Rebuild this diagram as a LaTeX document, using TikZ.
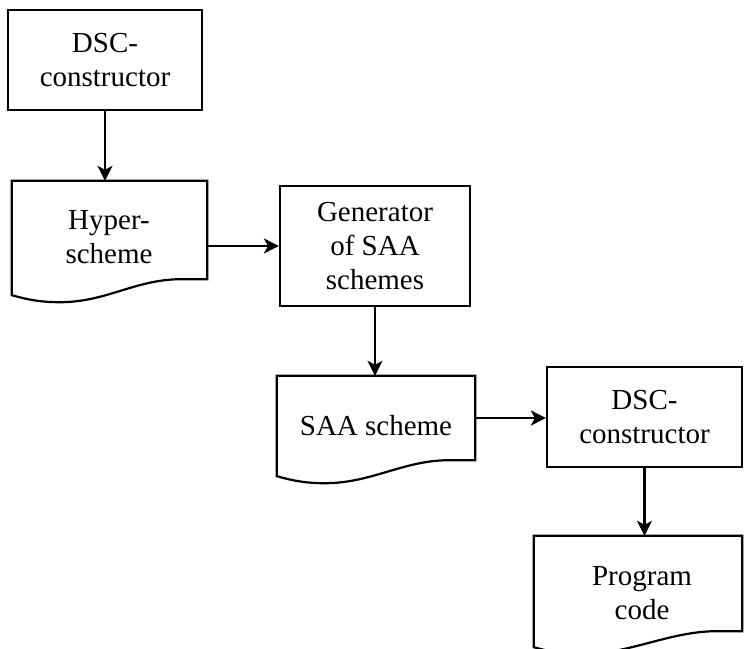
\documentclass[tikz,border=0pt]{standalone}
\usepackage{fontspec}
\setmainfont{Liberation Serif}
\usetikzlibrary{calc,arrows.meta}

\tikzset{
  base/.style={line width=2.2pt},
  txt/.style={align=center, inner sep=0pt, font=\fontsize{29}{34}\selectfont},
  box/.style={base, draw, rectangle, inner sep=0pt, txt},
  docbody/.style={rectangle, inner sep=0pt},
  arr/.style={base, -{Stealth[length=15pt,width=15pt,inset=4pt]}}
}

% document symbol: rectangle whose bottom edge is a wave
\newcommand\docoutline[1]{%
  \draw[base, line join=miter]
    (#1.south east) -- (#1.north east) -- (#1.north west)
    -- ($(#1.south west)+(0,16)$)
    .. controls ($(#1.south west)+(18,21)$) and ($(#1.south west)+(30,23)$) .. ($(#1.south west)+(48,23)$)
    .. controls ($(#1.south west)+(95,23)$) and ($(#1.south east)+(-72,0)$) .. ($(#1.south east)+(-26,0)$)
    -- cycle;}

\begin{document}
\begin{tikzpicture}[x=1pt, y=-1pt]
  \useasboundingbox (0,0) rectangle (744,648);

  % process boxes
  \node[box, minimum width=194pt, minimum height=100pt] (dsca) at (105,60) {DSC-\\constructor};
  \node[box, minimum width=190pt, minimum height=120pt] (gen) at (375,246) {Generator\\of SAA\\schemes};
  \node[box, minimum width=195pt, minimum height=100pt] (dscb) at (644.5,417) {DSC-\\constructor};

  % documents
  \node[docbody, minimum width=195pt, minimum height=98pt] (hyp) at (109.5,230) {};
  \docoutline{hyp}
  \node[txt] (hyptext) at (109,237) {Hyper-\\scheme};

  \node[docbody, minimum width=198pt, minimum height=84pt] (saa) at (376,418) {};
  \docoutline{saa}
  \node[txt] (saatext) at (376,426) {SAA scheme};

  \node[docbody, minimum width=208pt, minimum height=95pt] (prog) at (638,583.5) {};
  \docoutline{prog}
  \node[txt] (progtext) at (642,593) {Program\\code};

  % connectors
  \draw[arr] (dsca.south) -- (dsca.south |- hyp.north);
  \draw[arr] (hyp.east |- gen.west) -- (gen.west);
  \draw[arr] (gen.south) -- (gen.south |- saa.north);
  \draw[arr] (saa.east) -- (saa.east -| dscb.west);
  \draw[arr] (dscb.south) -- (dscb.south |- prog.north);
\end{tikzpicture}
\end{document}
